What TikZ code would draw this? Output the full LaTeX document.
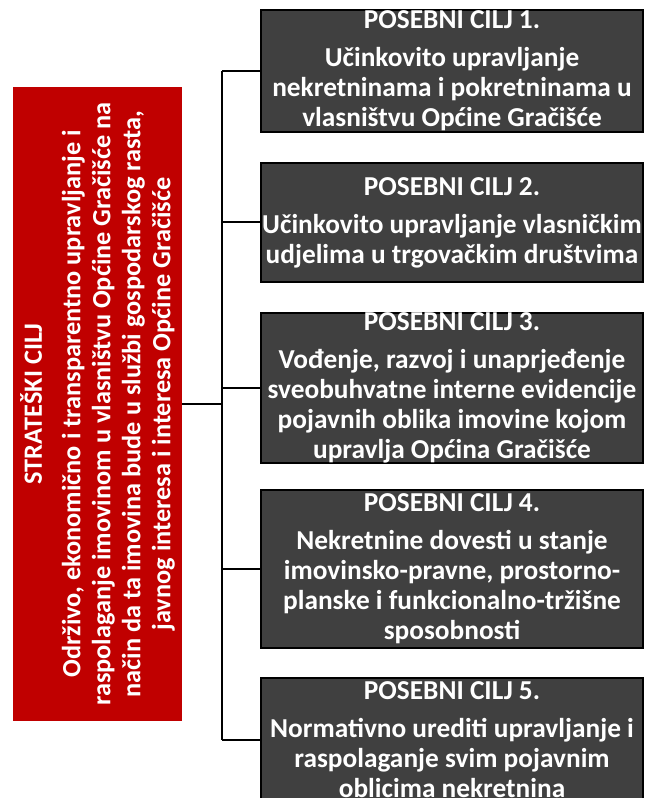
\documentclass[tikz,border=0pt]{standalone}
\usepackage{fontspec}
\setmainfont{Carlito}
\usepackage{tikz}
\usetikzlibrary{calc}
\definecolor{stratred}{HTML}{C00000}
\definecolor{goalgray}{HTML}{404040}
\tikzset{>=latex}
\tikzset{
  goalbox/.style={draw=black,line width=1.5pt,fill=goalgray,text=white,
    font=\bfseries\fontsize{20.5}{22.5}\selectfont,align=center,
    minimum width=286.5pt,inner sep=0pt},
  stratbox/.style={fill=stratred,text=white,rotate=90,
    font=\bfseries\fontsize{19.75}{22.5}\selectfont,align=center,
    minimum width=475.5pt,minimum height=126.75pt,inner sep=0pt},
  link/.style={line width=1.5pt}
}

\begin{document}
\begin{tikzpicture}[x=0.75pt,y=-0.75pt]
    \useasboundingbox (0,0) rectangle (645,798);

    \node[stratbox] (strat) at (97.5,404) {STRATEŠKI CILJ\\[6.5pt]
      Održivo, ekonomično i transparentno upravljanje i\\
      raspolaganje imovinom u vlasništvu Općine Gračišće na\\
      način da ta imovina bude u službi gospodarskog rasta,\\
      javnog interesa i interesa Općine Gračišće};

    \node[goalbox,minimum height=91.5pt] (goal1) at (452,71) {POSEBNI CILJ 1.\\[6pt]
      Učinkovito upravljanje\\ nekretninama i pokretninama u\\ vlasništvu Općine Gračišće};
    \node[goalbox,minimum height=89.25pt] (goal2) at (452,222.5) {POSEBNI CILJ 2.\\[6pt]
      Učinkovito upravljanje vlasničkim\\ udjelima u trgovačkim društvima};
    \node[goalbox,minimum height=112.5pt] (goal3) at (452,388) {POSEBNI CILJ 3.\\[6pt]
      Vođenje, razvoj i unaprjeđenje\\ sveobuhvatne interne evidencije\\
      pojavnih oblika imovine kojom\\ upravlja Općina Gračišće};
    \node[goalbox,minimum height=118.5pt] (goal4) at (452,569) {POSEBNI CILJ 4.\\[6pt]
      Nekretnine dovesti u stanje\\ imovinsko-pravne, prostorno-\\
      planske i funkcionalno-tržišne\\ sposobnosti};
    \node[goalbox,minimum height=93pt] (goal5) at (452,740) {POSEBNI CILJ 5.\\[6pt]
      Normativno urediti upravljanje i\\ raspolaganje svim pojavnim\\ oblicima nekretnina};

    \coordinate (trunk) at (222,404);
    \draw[link] (strat.south) -- (strat.south -| trunk);
    \draw[link] (goal1.west -| trunk) -- (goal5.west -| trunk);
    \foreach \g in {goal1,goal2,goal3,goal4,goal5}
      \draw[link] (\g.west) -- (\g.west -| trunk);
  \end{tikzpicture}
\end{document}
